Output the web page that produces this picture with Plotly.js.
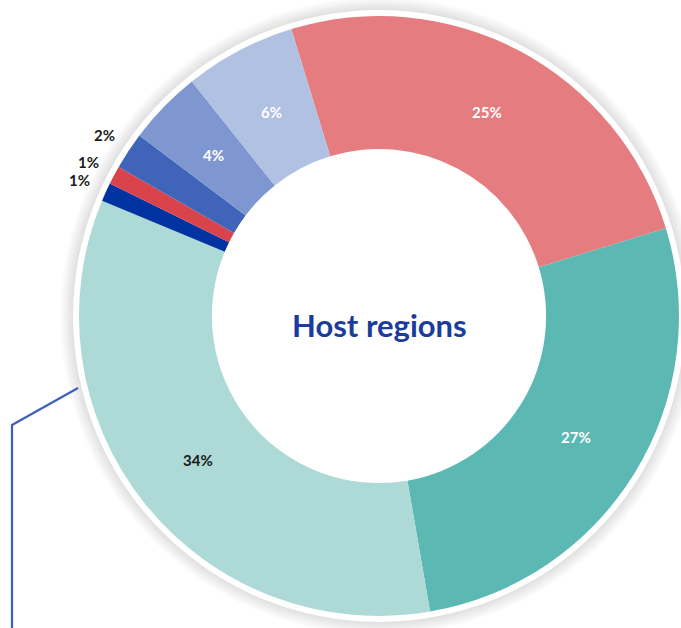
<!DOCTYPE html>
<html>
<head>
<meta charset="utf-8">
<script src="https://cdn.plot.ly/plotly-3.0.1.min.js"></script>
<style>html,body{margin:0;padding:0;background:#fff;}#chart{width:681px;height:628px;}</style>
</head>
<body>
<div id="chart"></div>
<script>
// Data
const regions = ["Region A", "Region B", "Region C", "Region D", "Region E", "Region F", "Region G", "Region H"];
const shares = [25, 27, 34, 1, 1, 2, 4, 6];
const sliceColors = ["#E47C80", "#5CB8B3", "#ADD9D6", "#0033A1", "#D9434B", "#3F64BA", "#7F97D1", "#B0C1E2"];
const labelOutside = [false, false, false, true, true, true, false, false];
const labelColors = ["#FFFFFF", "#FFFFFF", "#1A1A1A", "#1A1A1A", "#1A1A1A", "#1A1A1A", "#FFFFFF", "#FFFFFF"];
const centerTitle = "Host regions";

const W = 681, H = 628;
const cx = 379, cy = 316, R = 300;
const ROT = -17;

function circ(r, fill) {
  return {
    type: "circle", xref: "paper", yref: "paper", layer: "below",
    x0: (cx - r) / W, x1: (cx + r) / W,
    y0: 1 - (cy + r) / H, y1: 1 - (cy - r) / H,
    fillcolor: fill, line: {width: 0}
  };
}

const shapes = [];
for (let i = 10; i >= 0; i--) {
  shapes.push(circ(306 + i * 1.3, "rgba(0,0,0,0.013)"));
}
shapes.push(circ(306, "#FFFFFF"));
// decorative connector line at left
const lc = "#3F5FBF";
shapes.push({type: "line", xref: "paper", yref: "paper", layer: "above",
  x0: 78 / W, y0: 1 - 388 / H, x1: 12 / W, y1: 1 - 425 / H, line: {color: lc, width: 2.2}});
shapes.push({type: "line", xref: "paper", yref: "paper", layer: "above",
  x0: 12 / W, y0: 1 - 424 / H, x1: 12 / W, y1: 0, line: {color: lc, width: 2.2}});

// percentage labels placed at each slice's mid-angle (computed from the values)
const total = shares.reduce((a, b) => a + b, 0);
const annotations = [];
let cum = 0;
shares.forEach((v, i) => {
  const mid = (ROT + (cum + v / 2) / total * 360) * Math.PI / 180;
  cum += v;
  const r = labelOutside[i] ? 329 : 231;
  const px = cx + r * Math.sin(mid);
  const py = cy - r * Math.cos(mid);
  annotations.push({
    text: Math.round(v / total * 100) + "%",
    xref: "paper", yref: "paper", x: px / W, y: 1 - py / H,
    xanchor: "center", yanchor: "middle", showarrow: false,
    font: {family: "Lato, sans-serif", size: 15, weight: "bold", color: labelColors[i]}
  });
});
annotations.push({
  text: centerTitle, xref: "paper", yref: "paper",
  x: cx / W, y: 1 - 325 / H, xanchor: "center", yanchor: "middle",
  showarrow: false,
  font: {family: "Lato, sans-serif", size: 31, weight: "bold", color: "#1B3C9C"}
});

const trace = {
  type: "pie",
  labels: regions,
  values: shares,
  sort: false,
  direction: "clockwise",
  rotation: ROT,
  hole: 0.557,
  marker: {colors: sliceColors, line: {width: 0}},
  textinfo: "none",
  hoverinfo: "none",
  showlegend: false,
  domain: {x: [(cx - R) / W, (cx + R) / W], y: [1 - (cy + R) / H, 1 - (cy - R) / H]}
};

const layout = {
  width: W, height: H,
  margin: {l: 0, r: 0, t: 0, b: 0},
  paper_bgcolor: "#FFFFFF",
  showlegend: false,
  shapes: shapes,
  annotations: annotations
};

Plotly.newPlot("chart", [trace], layout, {staticPlot: true, displayModeBar: false});
</script>
</body>
</html>
